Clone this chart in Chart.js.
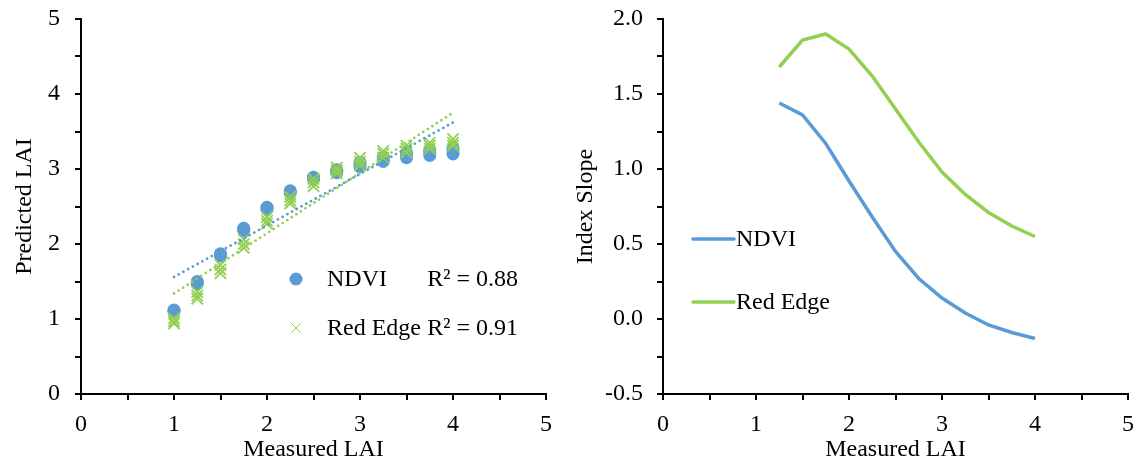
<!DOCTYPE html>
<html>
<head>
<meta charset="utf-8">
<script src="https://cdn.jsdelivr.net/npm/chart.js@4/dist/chart.umd.min.js"></script>
<style>
  html, body { margin: 0; padding: 0; background: #fff; }
  #wrap { position: relative; width: 1134px; height: 468px; }
  .box { position: absolute; top: 0; width: 567px; height: 468px; }
</style>
</head>
<body>
<div id="wrap">
  <div class="box" style="left:0"><canvas id="left"></canvas></div>
  <div class="box" style="left:567px"><canvas id="right"></canvas></div>
</div>
<script>
// measured LAI classes (left panel), three predictions per class
const measured = [1, 1.25, 1.5, 1.75, 2, 2.25, 2.5, 2.75, 3, 3.25, 3.5, 3.75, 4];
const ndviPred = [
  [1.10, 1.11, 1.12], [1.47, 1.48, 1.50], [1.84, 1.86, 1.87], [2.18, 2.20, 2.21],
  [2.46, 2.48, 2.49], [2.68, 2.70, 2.71], [2.86, 2.88, 2.89], [2.95, 2.97, 2.99],
  [3.03, 3.06, 3.09], [3.10, 3.13, 3.16], [3.15, 3.19, 3.22], [3.18, 3.22, 3.26],
  [3.20, 3.24, 3.28]
];
const redEdgePred = [
  [0.94, 0.97, 1.01], [1.27, 1.31, 1.36], [1.61, 1.66, 1.72], [1.95, 2.00, 2.06],
  [2.27, 2.31, 2.36], [2.54, 2.58, 2.63], [2.77, 2.82, 2.87], [2.94, 2.98, 3.02],
  [3.05, 3.10, 3.15], [3.15, 3.20, 3.24], [3.22, 3.27, 3.31], [3.27, 3.31, 3.35],
  [3.31, 3.35, 3.40]
];
// linear trendlines, end points
const trendX = [1, 4];
const ndviTrend = [1.56, 3.62];
const redEdgeTrend = [1.34, 3.75];
const r2Labels = ['R\u00B2 = 0.88', 'R\u00B2 = 0.91'];

// index slope (right panel)
const slopeX = [1.25, 1.5, 1.75, 2, 2.25, 2.5, 2.75, 3, 3.25, 3.5, 3.75, 4];
const ndviSlope = [1.44, 1.36, 1.17, 0.92, 0.68, 0.45, 0.27, 0.14, 0.04, -0.04, -0.09, -0.13];
const redEdgeSlope = [1.68, 1.86, 1.90, 1.80, 1.62, 1.40, 1.18, 0.98, 0.83, 0.71, 0.62, 0.55];

const BLUE = '#5B9BD5';
const GREEN = '#92D050';

Chart.defaults.font.family = "'Liberation Serif', 'Times New Roman', serif";
Chart.defaults.color = '#000';

function points(xs, rows) {
  const out = [];
  xs.forEach((x, i) => rows[i].forEach(y => out.push({ x, y })));
  return out;
}

function pairs(xs, ys) {
  return xs.map((x, i) => ({ x, y: ys[i] }));
}

function onStep(v, step) {
  return Math.abs(v / step - Math.round(v / step)) < 1e-9;
}

function xAxis() {
  return {
    type: 'linear', min: 0, max: 5,
    ticks: {
      stepSize: 0.5, autoSkip: false, maxRotation: 0, padding: 10,
      font: { size: 24 },
      callback: v => onStep(v, 1) ? String(v) : ''
    },
    grid: { drawOnChartArea: false, color: '#000', lineWidth: 2, tickLength: 6 },
    border: { color: '#000', width: 2 },
    title: { display: true, text: 'Measured LAI', font: { size: 24 }, padding: { top: 0, bottom: 4 } },
    afterFit: s => { s.height = 74; s.paddingLeft = 0; s.paddingRight = 0; }
  };
}

function yAxis(min, max, step, labelStep, digits, title, width, titlePad, tickPad) {
  return {
    type: 'linear', min, max,
    ticks: {
      stepSize: step, autoSkip: false, padding: tickPad,
      font: { size: 24 },
      callback: v => onStep(v, labelStep) ? v.toFixed(digits) : ''
    },
    grid: { drawOnChartArea: false, color: '#000', lineWidth: 2, tickLength: 6 },
    border: { color: '#000', width: 2 },
    title: { display: true, text: title, font: { size: 24 }, padding: { top: titlePad, bottom: 0 } },
    afterFit: s => { s.width = width; s.paddingTop = 0; s.paddingBottom = 0; }
  };
}

// legend for the scatter panel
const scatterKey = {
  id: 'scatterKey',
  afterDraw(chart) {
    const ctx = chart.ctx;
    ctx.save();
    ctx.fillStyle = BLUE;
    ctx.beginPath(); ctx.arc(296, 279, 6.5, 0, Math.PI * 2); ctx.fill();
    ctx.strokeStyle = GREEN;
    Chart.helpers.drawPoint(ctx, { pointStyle: 'crossRot', radius: 7, borderWidth: 1.5 }, 296, 328);
    ctx.font = "24px 'Liberation Serif'";
    ctx.fillStyle = '#000';
    ctx.textBaseline = 'middle';
    ctx.textAlign = 'left';
    ctx.fillText('NDVI', 327, 280);
    ctx.fillText('Red Edge', 327, 329);
    ctx.textAlign = 'right';
    ctx.fillText(r2Labels[0], 518, 280);
    ctx.fillText(r2Labels[1], 518, 329);
    ctx.restore();
  }
};

// legend for the slope panel
const lineKey = {
  id: 'lineKey',
  afterDraw(chart) {
    const ctx = chart.ctx;
    ctx.save();
    ctx.lineWidth = 3.5;
    ctx.lineCap = 'round';
    [[BLUE, 'NDVI', 239], [GREEN, 'Red Edge', 302]].forEach(([c, t, y]) => {
      ctx.strokeStyle = c;
      ctx.beginPath(); ctx.moveTo(126, y); ctx.lineTo(167, y); ctx.stroke();
      ctx.fillStyle = '#000';
      ctx.font = "24px 'Liberation Serif'";
      ctx.textBaseline = 'middle';
      ctx.fillText(t, 169, y + 1);
    });
    ctx.restore();
  }
};

const common = {
  responsive: true,
  maintainAspectRatio: false,
  animation: false,
  plugins: { legend: { display: false }, tooltip: { enabled: false } }
};

new Chart(document.getElementById('left'), {
  type: 'scatter',
  data: {
    datasets: [
      {
        label: 'NDVI trend', type: 'line', data: pairs(trendX, ndviTrend), order: 0,
        borderColor: BLUE, borderWidth: 2.8, borderDash: [0, 5.4], borderCapStyle: 'round',
        pointRadius: 0, fill: false
      },
      {
        label: 'Red Edge trend', type: 'line', data: pairs(trendX, redEdgeTrend), order: 0,
        borderColor: GREEN, borderWidth: 2.8, borderDash: [0, 5.4], borderCapStyle: 'round',
        pointRadius: 0, fill: false
      },
      {
        label: 'Red Edge', data: points(measured, redEdgePred), order: 1,
        pointStyle: 'crossRot', pointRadius: 8, borderColor: GREEN, borderWidth: 1.8,
        backgroundColor: GREEN
      },
      {
        label: 'NDVI', data: points(measured, ndviPred), order: 2,
        pointStyle: 'circle', pointRadius: 6.5, borderColor: BLUE, borderWidth: 0,
        backgroundColor: BLUE
      }
    ]
  },
  options: {
    ...common,
    layout: { padding: { left: 0, right: 21, top: 19, bottom: 0 } },
    scales: {
      x: xAxis(),
      y: yAxis(0, 5, 0.5, 1, 0, 'Predicted LAI', 81, 10, 15)
    }
  },
  plugins: [scatterKey]
});

new Chart(document.getElementById('right'), {
  type: 'scatter',
  data: {
    datasets: [
      {
        label: 'NDVI', data: pairs(slopeX, ndviSlope), showLine: true,
        borderColor: BLUE, borderWidth: 3.5, pointRadius: 0, tension: 0, fill: false
      },
      {
        label: 'Red Edge', data: pairs(slopeX, redEdgeSlope), showLine: true,
        borderColor: GREEN, borderWidth: 3.5, pointRadius: 0, tension: 0, fill: false
      }
    ]
  },
  options: {
    ...common,
    layout: { padding: { left: 0, right: 6, top: 19, bottom: 0 } },
    scales: {
      x: xAxis(),
      y: yAxis(-0.5, 2, 0.25, 0.5, 1, 'Index Slope', 96, 4, 14)
    }
  },
  plugins: [lineKey]
});
</script>
</body>
</html>
